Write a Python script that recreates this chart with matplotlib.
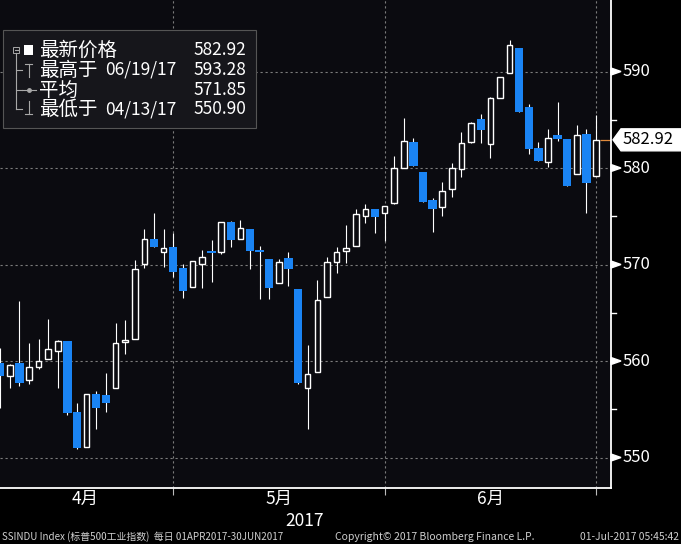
import matplotlib
matplotlib.use('Agg')
import matplotlib.pyplot as plt
from matplotlib.patches import Polygon, Rectangle
from matplotlib.lines import Line2D

plt.rcParams['font.family'] = ['Noto Sans CJK SC', 'DejaVu Sans']

# daily OHLC, SSINDU Index, 03 Apr 2017 - 30 Jun 2017 (trading days)
opens = [559.76, 558.45, 559.82, 558.03, 559.35, 560.18, 561.04, 562.04, 554.68, 551.09,
         556.55, 556.45, 557.17, 561.95, 562.25, 570.02, 572.60, 571.26, 571.78, 569.60,
         567.64, 570.02, 571.25, 571.33, 574.37, 572.61, 573.68, 571.40, 570.54, 568.05,
         570.64, 567.46, 557.17, 558.83, 566.60, 570.23, 571.40, 571.95, 575.06, 575.72,
         575.30, 576.40, 579.97, 582.73, 579.55, 576.68, 576.00, 577.79, 579.86, 582.66,
         585.05, 582.49, 587.29, 589.88, 592.40, 586.29, 582.04, 580.59, 583.42, 582.97,
         579.35, 583.49, 579.17]
highs = [561.35, 559.70, 566.20, 561.90, 562.25, 564.32, 562.20, 562.10, 555.60, 556.60,
         556.90, 558.73, 563.97, 564.25, 570.47, 573.68, 575.30, 573.65, 573.23, 570.05,
         570.39, 571.50, 572.54, 574.37, 574.50, 574.61, 573.70, 571.92, 570.54, 570.54,
         571.27, 567.46, 561.66, 568.39, 570.75, 571.78, 574.09, 575.72, 576.27, 575.72,
         576.06, 581.24, 585.21, 583.14, 579.55, 576.86, 578.58, 580.55, 583.70, 584.74,
         585.60, 587.39, 589.40, 593.28, 592.40, 586.63, 582.66, 584.04, 586.87, 582.97,
         584.46, 584.04, 585.49]
lows = [555.10, 557.20, 557.44, 557.59, 559.14, 560.18, 557.17, 554.37, 550.90, 551.05,
        552.92, 554.75, 557.17, 560.69, 562.25, 569.67, 571.78, 569.77, 568.74, 566.56,
        567.64, 567.53, 568.22, 571.09, 571.84, 572.61, 569.53, 566.39, 566.39, 568.05,
        567.77, 557.59, 552.95, 558.83, 566.60, 569.09, 570.12, 571.95, 574.27, 573.23,
        572.47, 576.24, 579.97, 580.24, 576.50, 573.34, 575.06, 577.03, 579.10, 582.56,
        582.56, 581.00, 587.22, 589.88, 585.83, 581.42, 580.76, 580.14, 582.83, 578.17,
        579.35, 575.30, 579.17]
closes = [558.45, 559.55, 557.75, 559.41, 560.03, 561.27, 562.10, 554.64, 550.95, 556.55,
          555.10, 555.68, 561.83, 562.10, 569.50, 572.60, 571.78, 571.68, 569.19, 567.29,
          570.39, 570.81, 571.18, 574.37, 572.54, 573.75, 571.43, 571.30, 567.60, 570.23,
          569.50, 557.75, 558.62, 566.32, 570.23, 571.33, 571.68, 575.20, 575.72, 574.95,
          576.06, 579.97, 582.80, 580.24, 576.50, 575.72, 577.62, 579.97, 582.56, 584.63,
          583.94, 587.22, 589.40, 592.75, 585.83, 581.94, 580.76, 583.08, 582.97, 578.17,
          583.39, 578.48, 582.92]

month_ends = [18, 40, 62]          # last trading day of Apr / May / Jun
month_labels = ['4月', '5月', '6月']
month_label_pos = [8.8, 29.0, 51.0]
y_ticks = [550, 560, 570, 580, 590]
y_minor = [555, 565, 575, 585]
last_price = 582.92

legend_names = ['最新价格', '最高于', '平均', '最低于']
legend_dates = ['', '06/19/17', '', '04/13/17']
legend_values = ['582.92', '593.28', '571.85', '550.90']

BG = '#0b0b10'
BLUE = '#1a84f4'
GRID = '#7c7c7c'
W, H = 681, 544

fig = plt.figure(figsize=(W / 100, H / 100), dpi=100, facecolor='black')
ax = fig.add_axes([0, (H - 488) / H, 611 / W, 488 / H])
ax.set_facecolor(BG)
ax.set_xlim(-0.02, 63.56)
ax.set_ylim(546.84, 597.41)

# grid
for v in y_ticks:
    ax.axhline(v, color=GRID, lw=0.8, dashes=(2, 2.5), zorder=1)
for m in month_ends:
    ax.axvline(m, color=GRID, lw=0.8, dashes=(2, 2.5), zorder=1)

# candles
x = list(range(len(opens)))
ax.vlines(x, lows, highs, color='white', lw=0.8, zorder=2)
for i in x:
    o, c = opens[i], closes[i]
    lo, hi = min(o, c), max(o, c)
    h = max(hi - lo, 0.22)
    if c >= o:
        ax.bar(i, h, bottom=lo, width=0.58, facecolor=BG, edgecolor='white',
               linewidth=1.0, zorder=3)
    else:
        ax.bar(i, h, bottom=lo, width=0.87, color=BLUE, linewidth=0, zorder=3)

# last price line
ax.hlines(last_price, 62.4, 63.56, color='#e08a3c', lw=0.9, zorder=2)

# axes styling
for s in ['top', 'left']:
    ax.spines[s].set_visible(False)
ax.spines['right'].set_color('white')
ax.spines['right'].set_linewidth(1.3)
ax.spines['bottom'].set_color('white')
ax.spines['bottom'].set_linewidth(1.3)
ax.set_yticks([])
ax.set_xticks(month_ends)
ax.set_xticklabels([])
ax.tick_params(axis='x', length=5, color='#bbbbbb', width=0.8, direction='out')

ppu = 488 / (597.41 - 546.84)   # pixels per index point
yt = ax.get_yaxis_transform()
for v in y_ticks:
    tri = Polygon([(1.0, v + 3.5 / ppu), (1.0, v - 3.5 / ppu), (1 + 10 / 611, v)],
                  closed=True, color='white', transform=yt, clip_on=False)
    ax.add_patch(tri)
    ax.text(1 + 12 / 611, v, str(v), transform=yt, color='white', fontsize=12,
            va='center', ha='left')
for v in y_minor:
    ax.add_line(Line2D([1.0, 1 + 5 / 611], [v, v], color='white', lw=1.0,
                       transform=yt, clip_on=False))

# last price tag
tag = Polygon([(1 + 2 / 611, last_price), (1 + 10 / 611, last_price + 11 / ppu),
               (1 + 70 / 611, last_price + 11 / ppu), (1 + 70 / 611, last_price - 11 / ppu),
               (1 + 10 / 611, last_price - 11 / ppu)],
              closed=True, color='white', transform=yt, clip_on=False)
ax.add_patch(tag)
ax.text(1 + 12 / 611, last_price, '%.2f' % last_price, transform=yt, color='black',
        fontsize=12, va='center', ha='left')

# month labels
xt = ax.get_xaxis_transform()
for pos, lab in zip(month_label_pos, month_labels):
    ax.text(pos, -11 / 488, lab, transform=xt, color='white', fontsize=12.5,
            ha='center', va='center')
ax.text(31.7, -33 / 488, '2017', transform=xt, color='white', fontsize=12.5,
        ha='center', va='center')


# legend box in pixel coordinates
def fx(px):
    return px / W


def fy(py):
    return 1 - py / H


fig.patches.append(Rectangle((fx(3), fy(128)), fx(256) - fx(3), fy(30) - fy(128),
                             transform=fig.transFigure, facecolor='#16161b',
                             edgecolor='#555555', lw=0.8, zorder=5))
row_y = [50, 70, 90, 109]
LG = '#a8a8a8'


def fline(xs, ys, color=LG, lw=0.8):
    fig.lines.append(Line2D([fx(a) for a in xs], [fy(b) for b in ys], color=color,
                            lw=lw, transform=fig.transFigure, zorder=6))


# tree
fig.patches.append(Rectangle((fx(13), fy(53)), fx(6), 6 / H, transform=fig.transFigure,
                             facecolor='none', edgecolor=LG, lw=0.7, zorder=6))
fline([14.5, 17.5], [50, 50])
fline([16, 16], [53, 109])
for ry in row_y[1:]:
    fline([16, 22], [ry, ry])
# icons
fig.patches.append(Rectangle((fx(24), fy(55)), fx(9), 10 / H, transform=fig.transFigure,
                             facecolor='white', edgecolor='white', lw=0, zorder=6))
fline([25, 32], [64, 64])
fline([28.5, 28.5], [64, 77])
fline([22, 36], [90, 90])
fig.lines.append(Line2D([fx(29)], [fy(90)], marker='o', ms=2.5, color=LG,
                        transform=fig.transFigure, zorder=6))
fline([28.5, 28.5], [101, 114])
fline([25, 32], [114, 114])

for ry, name, date, val in zip(row_y, legend_names, legend_dates, legend_values):
    fig.text(fx(39), fy(ry), name, color='white', fontsize=14, va='center', ha='left',
             zorder=7)
    if date:
        fig.text(fx(105), fy(ry), date, color='white', fontsize=12.5, va='center',
                 ha='left', zorder=7)
    fig.text(fx(246), fy(ry), val, color='white', fontsize=12.5, va='center', ha='right',
             zorder=7)

# footer
fig.text(fx(2), fy(537), 'SSINDU Index (标普500工业指数)  每日 01APR2017-30JUN2017',
         color='#cfcfcf', fontsize=7.1, va='center', ha='left')
fig.text(fx(335), fy(537), 'Copyright© 2017 Bloomberg Finance L.P.',
         color='#cfcfcf', fontsize=7.5, va='center', ha='left')
fig.text(fx(679), fy(537), '01-Jul-2017 05:45:42',
         color='#cfcfcf', fontsize=7.4, va='center', ha='right')

fig.savefig('out.png', dpi=100, facecolor='black')
